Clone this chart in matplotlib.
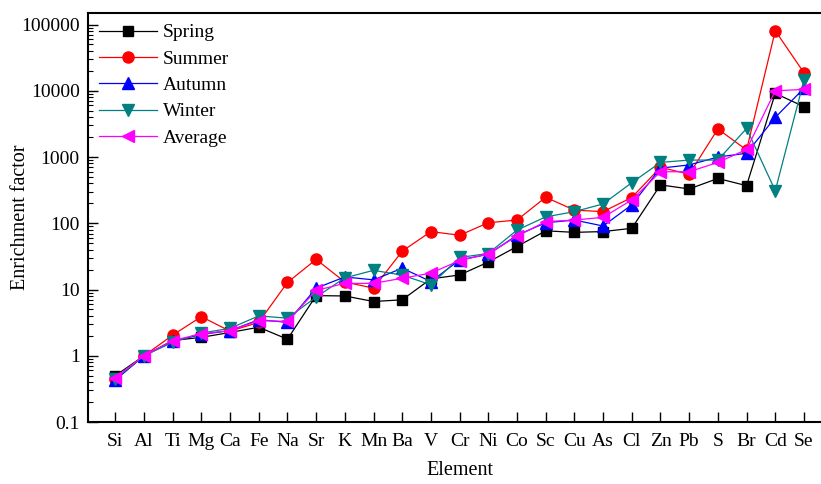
import numpy as np
import matplotlib.pyplot as plt

plt.rcParams['font.family'] = ['Liberation Serif', 'DejaVu Serif']

elements = ['Si', 'Al', 'Ti', 'Mg', 'Ca', 'Fe', 'Na', 'Sr', 'K', 'Mn', 'Ba', 'V', 'Cr',
            'Ni', 'Co', 'Sc', 'Cu', 'As', 'Cl', 'Zn', 'Pb', 'S', 'Br', 'Cd', 'Se']

spring = [0.5, 1.0, 1.7, 1.9, 2.25, 2.7, 1.78, 8.1, 8.0, 6.6, 7.0, 14.5, 16.6, 26,
          44.6, 77, 73, 75, 84, 380, 330, 475, 370, 9150, 5750]
summer = [0.44, 1.0, 2.05, 3.9, 2.35, 3.2, 12.8, 28.5, 13, 10.5, 38, 75, 66, 102,
          112, 247, 158, 150, 245, 700, 550, 2650, 1280, 80600, 18700]
autumn = [0.43, 1.0, 1.65, 2.1, 2.4, 3.5, 3.2, 10.5, 15.5, 14, 21, 13.2, 28, 34,
          66, 102, 112, 91, 190, 680, 760, 1000, 1140, 3970, 10900]
winter = [0.45, 1.0, 1.6, 2.2, 2.6, 4.0, 3.7, 7.7, 15, 19.5, 16.5, 11.8, 30.5, 35,
          79, 125, 150, 196, 410, 830, 900, 900, 2700, 310, 14500]
average = [0.47, 1.0, 1.7, 2.15, 2.4, 3.4, 3.3, 9.7, 12.4, 12.4, 14.8, 17.7, 27.4, 34.5,
           64, 106, 112, 123, 225, 600, 600, 830, 1300, 10000, 10500]

fig = plt.figure(figsize=(8.21, 4.84), dpi=100)
ax = fig.add_axes([0.1072, 0.128, 0.907, 0.845])

x = np.arange(len(elements))
ax.plot(x, spring, '-s', color='black', lw=0.9, ms=7, label='Spring')
ax.plot(x, summer, '-o', color='red', lw=0.9, ms=8, label='Summer')
ax.plot(x, autumn, '-^', color='blue', lw=0.9, ms=8, label='Autumn')
ax.plot(x, winter, '-v', color='#008080', lw=0.9, ms=8, label='Winter')
ax.plot(x, average, '-<', color='magenta', lw=0.9, ms=8, label='Average')

ax.set_yscale('log')
ax.set_ylim(0.1, 149000)
ax.set_xlim(-0.95, 25)
ax.set_yticks([0.1, 1, 10, 100, 1000, 10000, 100000])
ax.set_yticklabels(['0.1', '1', '10', '100', '1000', '10000', '100000'])
ax.set_xticks(x)
ax.set_xticklabels(elements)

ax.tick_params(axis='both', which='major', direction='in', length=7, width=1,
               labelsize=14, top=False, right=False)
ax.tick_params(axis='y', which='minor', direction='in', length=3.5, width=0.8)
ax.tick_params(axis='x', which='major', pad=8)
ax.tick_params(axis='y', which='major', pad=6)
for s in ax.spines.values():
    s.set_linewidth(1.5)

ax.set_xlabel('Element', fontsize=14.5, labelpad=8)
ax.set_ylabel('Enrichment factor', fontsize=14.5)
ax.yaxis.set_label_coords(-0.078, 0.5)

ax.legend(loc='upper left', frameon=False, fontsize=14, handlelength=3.0,
          borderaxespad=0.15, labelspacing=0.45, handletextpad=0.3)

fig.savefig('out.png', dpi=100)
